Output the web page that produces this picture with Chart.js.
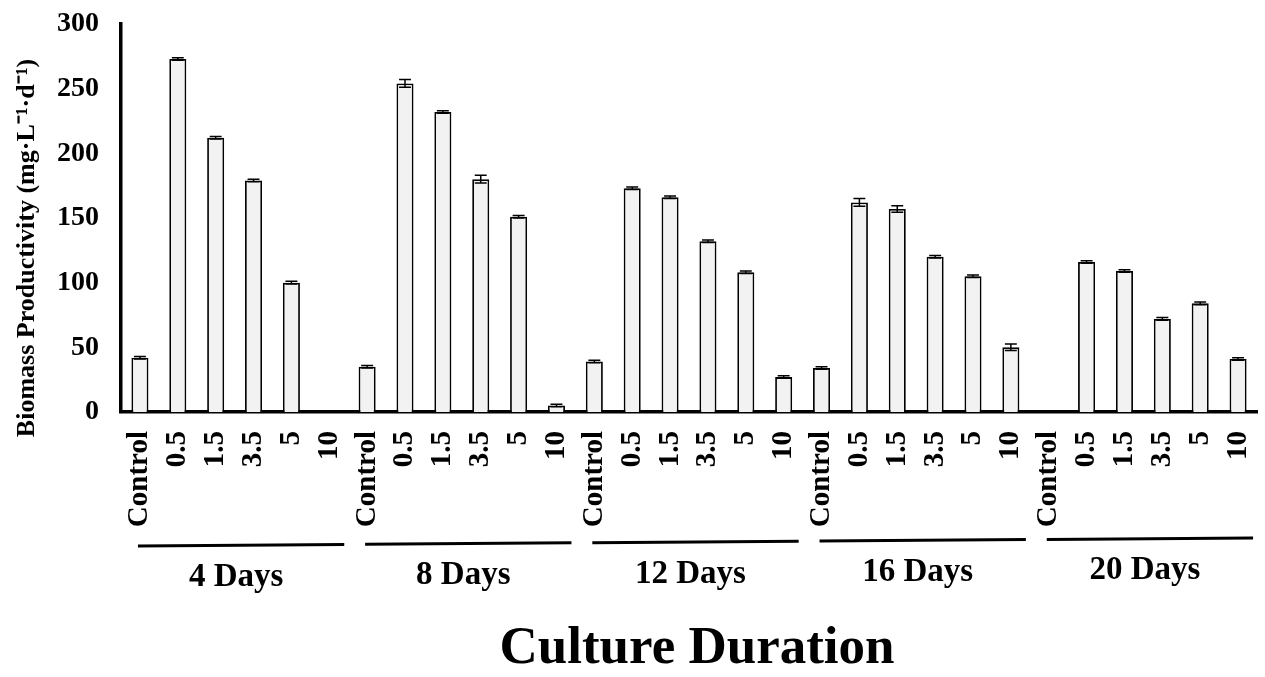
<!DOCTYPE html>
<html>
<head>
<meta charset="utf-8">
<script src="https://cdn.jsdelivr.net/npm/chart.js@4"></script>
<style>
  html, body { margin: 0; padding: 0; background: #fff; }
  #wrap { width: 1265px; height: 677px; position: relative; }
</style>
</head>
<body>
<div id="wrap"><canvas id="chart"></canvas></div>
<script>
const groups = ['4 Days', '8 Days', '12 Days', '16 Days', '20 Days'];
const treatments = ['Control', '0.5', '1.5', '3.5', '5', '10'];
const yTicks = [0, 50, 100, 150, 200, 250, 300];

// biomass productivity per group (mg/L/d), in treatment order
const day4 = [42, 273, 212, 179, 100, 0];
const day8 = [35, 254, 232, 180, 151, 5];
const day12 = [39, 173, 166, 132, 108, 27];
const day16 = [34, 162, 157, 120, 105, 50];
const day20 = [0, 116, 109, 72, 84, 41];

const err4 = [1, 1, 1, 1, 1, 0];
const err8 = [1, 3, 1, 3, 1, 1];
const err12 = [1, 1, 1, 1, 1, 1];
const err16 = [1, 3, 2.5, 1, 1, 2.5];
const err20 = [0, 1, 1, 1, 1, 1];

const labels = [];
groups.forEach(() => treatments.forEach(t => labels.push(t)));
const values = [].concat(day4, day8, day12, day16, day20);
const errors = [].concat(err4, err8, err12, err16, err20);

const FONT = '"Liberation Serif", "Times New Roman", serif';
const Y_TITLE = 'Biomass Productivity (mg·L⁻¹·d⁻¹)';
const X_TITLE = 'Culture Duration';

const errorBarPlugin = {
  id: 'errorBars',
  afterDatasetsDraw(chart) {
    const ctx = chart.ctx;
    const meta = chart.getDatasetMeta(0);
    const y = chart.scales.y;
    ctx.save();
    ctx.strokeStyle = '#000';
    ctx.lineWidth = 1.5;
    meta.data.forEach((bar, i) => {
      if (!values[i] || !errors[i]) return;
      const top = y.getPixelForValue(values[i] + errors[i]);
      const bot = y.getPixelForValue(values[i] - errors[i]);
      const half = bar.width * 0.35;
      ctx.beginPath();
      ctx.moveTo(bar.x, top); ctx.lineTo(bar.x, bot);
      ctx.moveTo(bar.x - half, top); ctx.lineTo(bar.x + half, top);
      ctx.moveTo(bar.x - half, bot); ctx.lineTo(bar.x + half, bot);
      ctx.stroke();
    });
    ctx.restore();
  }
};

// group underline + "N Days" label, plus both axis titles
const labelsPlugin = {
  id: 'groupLabels',
  afterDraw(chart) {
    const ctx = chart.ctx;
    const x = chart.scales.x;
    const n = treatments.length;
    const tilt = 8 / 1100; // the scanned original is slightly skewed
    ctx.save();
    ctx.fillStyle = '#000';
    ctx.strokeStyle = '#000';
    ctx.lineWidth = 3;
    ctx.font = 'bold 33px ' + FONT;
    ctx.textAlign = 'center';
    ctx.textBaseline = 'middle';
    groups.forEach((g, gi) => {
      const left = x.getPixelForValue(gi * n) - 2;
      const right = x.getPixelForValue(gi * n + n - 1) + 15;
      const y0 = 546 - (left - 137) * tilt;
      const y1 = 546 - (right - 137) * tilt;
      ctx.beginPath();
      ctx.moveTo(left, y0);
      ctx.lineTo(right, y1);
      ctx.stroke();
      const cx = (left + right) / 2 - 5;
      ctx.fillText(g, cx, 578 - (cx - 137) * tilt);
    });

    ctx.font = 'bold 53px ' + FONT;
    ctx.fillText(X_TITLE, 697, 649);

    ctx.translate(27, 248);
    ctx.rotate(-Math.PI / 2);
    ctx.font = 'bold 26px ' + FONT;
    ctx.fillText(Y_TITLE, 0, 0);
    ctx.restore();
  }
};

new Chart(document.getElementById('chart'), {
  type: 'bar',
  data: {
    labels: labels,
    datasets: [{
      data: values,
      backgroundColor: '#f2f2f2',
      borderColor: '#000',
      borderWidth: 1.8,
      barPercentage: 0.45,
      categoryPercentage: 1.0
    }]
  },
  options: {
    responsive: true,
    maintainAspectRatio: false,
    animation: false,
    layout: { padding: { left: 0, right: 8, top: 24, bottom: 0 } },
    plugins: {
      legend: { display: false },
      tooltip: { enabled: false }
    },
    scales: {
      x: {
        grid: { display: false, drawTicks: false },
        border: { display: true, color: '#000', width: 3.5 },
        ticks: {
          color: '#000',
          autoSkip: false,
          maxRotation: 90,
          minRotation: 90,
          padding: 19,
          font: { family: FONT, size: 29, weight: 'bold' }
        },
        afterFit(axis) {
          axis.height = 677 - 412;
          axis.paddingLeft = 0;
          axis.paddingRight = 0;
        }
      },
      y: {
        min: 0,
        max: 300,
        afterBuildTicks(axis) { axis.ticks = yTicks.map(v => ({ value: v })); },
        grid: { display: false, drawTicks: false },
        border: { display: true, color: '#000', width: 3.5 },
        ticks: {
          color: '#000',
          padding: 22,
          font: { family: FONT, size: 28, weight: 'bold' }
        },
        afterFit(axis) {
          axis.width = 121;
          axis.paddingTop = 0;
          axis.paddingBottom = 0;
        }
      }
    }
  },
  plugins: [errorBarPlugin, labelsPlugin]
});
</script>
</body>
</html>
